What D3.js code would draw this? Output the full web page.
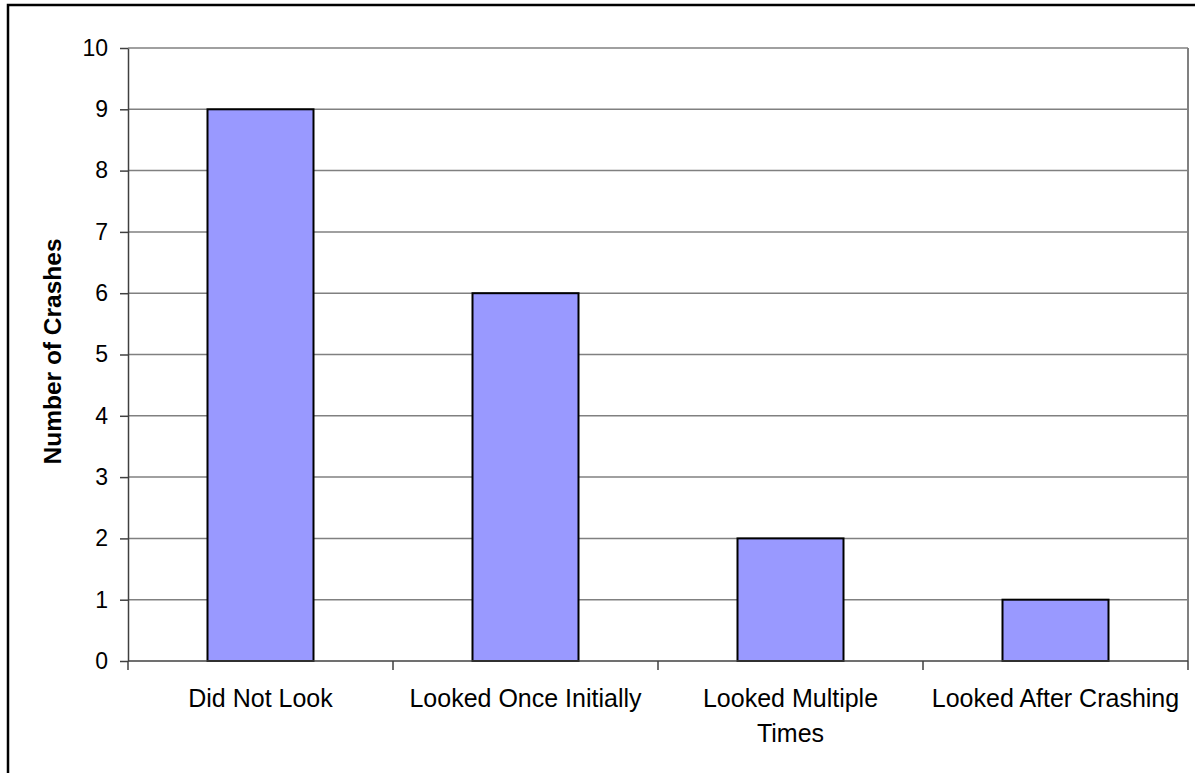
<!DOCTYPE html>
<html>
<head>
<meta charset="utf-8">
<script src="https://cdn.jsdelivr.net/npm/d3@7"></script>
<style>
  body { margin: 0; background: #fff; }
  svg { display: block; font-family: "Liberation Sans", Arial, sans-serif; }
</style>
</head>
<body>
<svg id="chart" width="1195" height="773"></svg>
<script>
// chart data
const categories = ["Did Not Look", "Looked Once Initially", "Looked Multiple Times", "Looked After Crashing"];
const crashes = [9, 6, 2, 1];
const tickLabels = [["Did Not Look"], ["Looked Once Initially"], ["Looked Multiple", "Times"], ["Looked After Crashing"]];
const yTicks = [0, 1, 2, 3, 4, 5, 6, 7, 8, 9, 10];

const PLOT = { left: 128, right: 1188, top: 48, bottom: 661 };
const GAP = 1.5; // excel style gap width (150%)

const svg = d3.select("#chart");

// outer frame, cut off at the right and bottom like the screenshot
svg.append("rect")
    .attr("x", 8).attr("y", 5)
    .attr("width", 1200).attr("height", 800)
    .attr("fill", "none")
    .attr("stroke", "#000")
    .attr("stroke-width", 2.5);

const x = d3.scaleBand()
    .domain(categories)
    .range([PLOT.left, PLOT.right])
    .padding(0);

const y = d3.scaleLinear()
    .domain([0, 10])
    .range([PLOT.bottom, PLOT.top]);

// gridlines
svg.append("g")
    .selectAll("line")
    .data(yTicks.filter(d => d > 0))
    .join("line")
    .attr("x1", PLOT.left).attr("x2", PLOT.right)
    .attr("y1", d => y(d)).attr("y2", d => y(d))
    .attr("stroke", "#808080")
    .attr("stroke-width", 1.5);

// right edge of plot area
svg.append("line")
    .attr("x1", PLOT.right).attr("x2", PLOT.right)
    .attr("y1", PLOT.top).attr("y2", PLOT.bottom)
    .attr("stroke", "#808080")
    .attr("stroke-width", 2);

// bars
const barW = x.bandwidth() / (1 + GAP);
svg.append("g")
    .selectAll("rect")
    .data(categories)
    .join("rect")
    .attr("x", d => x(d) + (x.bandwidth() - barW) / 2)
    .attr("y", (d, i) => y(crashes[i]))
    .attr("width", barW)
    .attr("height", (d, i) => y(0) - y(crashes[i]))
    .attr("fill", "#9999ff")
    .attr("stroke", "#000")
    .attr("stroke-width", 2);

// y axis
const yAxis = svg.append("g")
    .attr("transform", `translate(${PLOT.left},0)`)
    .call(d3.axisLeft(y).tickValues(yTicks).tickSize(8).tickPadding(12).tickSizeOuter(0));
yAxis.select(".domain").attr("stroke", "#404040").attr("stroke-width", 1.5);
yAxis.selectAll(".tick line").attr("stroke", "#404040").attr("stroke-width", 1.5);
yAxis.selectAll(".tick text")
    .attr("font-size", 23)
    .attr("font-family", "Liberation Sans, Arial, sans-serif")
    .attr("fill", "#000");

// x axis: ticks sit between categories
const xAxis = svg.append("g")
    .attr("transform", `translate(0,${PLOT.bottom})`);
xAxis.append("line")
    .attr("x1", PLOT.left).attr("x2", PLOT.right)
    .attr("stroke", "#404040").attr("stroke-width", 1.5);
const edges = categories.map(c => x(c)).concat([PLOT.right]);
xAxis.selectAll(".edge")
    .data(edges)
    .join("line")
    .attr("class", "edge")
    .attr("x1", d => d).attr("x2", d => d)
    .attr("y1", 0).attr("y2", 9)
    .attr("stroke", "#404040").attr("stroke-width", 1.5);

const labels = xAxis.selectAll(".cat")
    .data(categories)
    .join("text")
    .attr("class", "cat")
    .attr("x", d => x(d) + x.bandwidth() / 2)
    .attr("y", 46)
    .attr("text-anchor", "middle")
    .attr("font-size", 25)
    .attr("fill", "#000");
labels.selectAll("tspan")
    .data((d, i) => tickLabels[i])
    .join("tspan")
    .attr("x", function () { return this.parentNode.getAttribute("x"); })
    .attr("dy", (d, i) => i === 0 ? 0 : 35)
    .text(d => d);

// y axis title
svg.append("text")
    .attr("transform", `translate(61,${(PLOT.top + PLOT.bottom) / 2 - 3}) rotate(-90)`)
    .attr("text-anchor", "middle")
    .attr("font-size", 24.5)
    .attr("font-weight", "bold")
    .attr("fill", "#000")
    .text("Number of Crashes");
</script>
</body>
</html>
